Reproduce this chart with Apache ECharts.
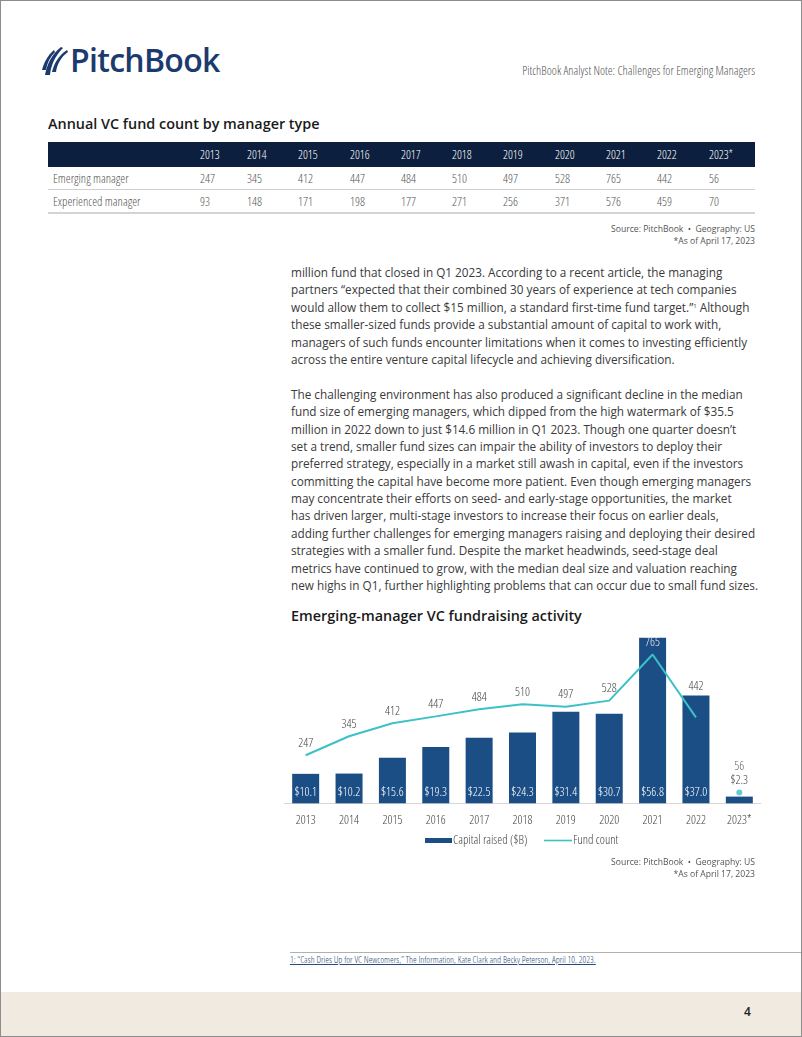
<!DOCTYPE html>
<html>
<head>
<meta charset="utf-8">
<script src="https://cdn.jsdelivr.net/npm/echarts@6/dist/echarts.min.js"></script>
<style>
  html, body { margin:0; padding:0; }
  body { width:802px; height:1037px; position:relative; background:#fff; overflow:hidden; font-family:"Open Sans", sans-serif; }
  .frame { position:absolute; left:0; top:0; width:802px; height:1037px; box-sizing:border-box; border:1px solid #8c8c8c; pointer-events:none; z-index:5; }
  .abs { position:absolute; white-space:nowrap; }
  .cond { font-family:"Open Sans Condensed Light","Roboto Condensed",sans-serif; }
  #tbl { position:absolute; left:48px; top:142px; width:707px; border-collapse:collapse; table-layout:fixed; }
  #tbl td, #tbl th { padding:0; text-align:left; font-weight:normal; font-size:12.5px; }
  #tbl thead th { background:#0d1f3e; color:#fff; height:25px; font-family:"Open Sans"; font-stretch:condensed; font-weight:350; font-size:12px; }
  #tbl tbody td { color:#555; height:22px; border-bottom:1px solid #cfcfcf; }
  #tbl tbody tr:last-child td { border-bottom:2px solid #d4d4d4; height:22px; }
  .body { position:absolute; left:291px; top:264px; font-size:11.75px; line-height:17.4px; color:#3a3a3a; }
  .body div { white-space:nowrap; height:17.4px; }
  .src { position:absolute; right:47px; font-size:8.6px; color:#555; text-align:right; line-height:12px; }
</style>
</head>
<body>
<div class="frame"></div>

<!-- logo -->
<svg class="abs" style="left:41px;top:45px" width="30" height="32" viewBox="0 0 30 32">
  <path d="M4 30 C6 20 10 10 20 2 L22 3 C14 11 10 20 9 30 Z" fill="#1b3a6e"/>
  <path d="M11 27 C13 19 17 11 26 5 L27 7 C20 12 16 19 15 27 Z" fill="#1b3a6e"/>
  <path d="M1 25 C3 17 7 10 13 5 L14 7 C9 12 6 18 5 25 Z" fill="#1b3a6e"/>
</svg>
<div class="abs" style="left:70px;top:38px;font-size:32px;font-weight:600;color:#1b3a6e;letter-spacing:-0.7px;">PitchBook</div>
<div class="abs cond" style="right:47px;top:62px;font-size:12.3px;color:#555;">PitchBook Analyst Note: Challenges for Emerging Managers</div>

<!-- table -->
<div class="abs" style="left:48px;top:114px;font-size:14.4px;font-weight:600;color:#1a1a1a;">Annual VC fund count by manager type</div>
<table id="tbl" class="cond"></table>
<div class="src" style="top:223px;">Source: PitchBook &nbsp;•&nbsp; Geography: US<br>*As of April 17, 2023</div>

<!-- body text -->
<div class="body" id="bodytext"></div>

<!-- chart -->
<div class="abs" style="left:291px;top:606px;font-size:14.4px;font-weight:600;color:#1a1a1a;">Emerging-manager VC fundraising activity</div>
<div id="chart" style="position:absolute;left:284px;top:625px;width:477px;height:235px;"></div>
<div class="src" style="top:856px;">Source: PitchBook &nbsp;•&nbsp; Geography: US<br>*As of April 17, 2023</div>

<!-- footnote -->
<div style="position:absolute;left:290px;top:952px;width:512px;height:1px;background:#b0b0b0;"></div>
<div class="abs cond" style="left:290px;top:953px;font-size:9.4px;color:#2b4a7c;text-decoration:underline;">1: “Cash Dries Up for VC Newcomers,” The Information, Kate Clark and Becky Peterson, April 10, 2023.</div>

<!-- footer -->
<div style="position:absolute;left:0;top:992px;width:802px;height:45px;background:#f0eae0;"></div>
<div class="abs" style="left:744px;top:1003px;font-size:12px;font-weight:600;color:#222;">4</div>

<script>
// ---- data ----
const years = ['2013','2014','2015','2016','2017','2018','2019','2020','2021','2022','2023*'];
const emergingCount = [247, 345, 412, 447, 484, 510, 497, 528, 765, 442, 56];
const experiencedCount = [93, 148, 171, 198, 177, 271, 256, 371, 576, 459, 70];
const capitalRaised = [10.1, 10.2, 15.6, 19.3, 22.5, 24.3, 31.4, 30.7, 56.8, 37.0, 2.3];
const rowLabels = ['Emerging manager', 'Experienced manager'];

const bodyLines = [
  'million fund that closed in Q1 2023. According to a recent article, the managing',
  'partners “expected that their combined 30 years of experience at tech companies',
  'would allow them to collect $15 million, a standard first-time fund target.”<sup style="font-size:6px;vertical-align:4px;line-height:0">1</sup> Although',
  'these smaller-sized funds provide a substantial amount of capital to work with,',
  'managers of such funds encounter limitations when it comes to investing efficiently',
  'across the entire venture capital lifecycle and achieving diversification.',
  '',
  'The challenging environment has also produced a significant decline in the median',
  'fund size of emerging managers, which dipped from the high watermark of $35.5',
  'million in 2022 down to just $14.6 million in Q1 2023. Though one quarter doesn’t',
  'set a trend, smaller fund sizes can impair the ability of investors to deploy their',
  'preferred strategy, especially in a market still awash in capital, even if the investors',
  'committing the capital have become more patient. Even though emerging managers',
  'may concentrate their efforts on seed- and early-stage opportunities, the market',
  'has driven larger, multi-stage investors to increase their focus on earlier deals,',
  'adding further challenges for emerging managers raising and deploying their desired',
  'strategies with a smaller fund. Despite the market headwinds, seed-stage deal',
  'metrics have continued to grow, with the median deal size and valuation reaching',
  'new highs in Q1, further highlighting problems that can occur due to small fund sizes.'
];

// ---- body text ----
document.getElementById('bodytext').innerHTML = bodyLines.map(l => '<div>' + (l || '&nbsp;') + '</div>').join('');

// ---- table ----
const colWidths = [152, 47, 51, 52, 51, 51, 51, 52, 51, 51, 52, 46];
let html = '<colgroup>' + colWidths.map(w => '<col style="width:' + w + 'px">').join('') + '</colgroup>';
html += '<thead><tr><th></th>' + years.map(y => '<th>' + y + '</th>').join('') + '</tr></thead><tbody>';
[emergingCount, experiencedCount].forEach((row, r) => {
  html += '<tr><td style="padding-left:5px">' + rowLabels[r] + '</td>' + row.map(v => '<td>' + v + '</td>').join('') + '</tr>';
});
html += '</tbody>';
document.getElementById('tbl').innerHTML = html;

// ---- chart ----
const COND = 'Open Sans Condensed Light';
const BAR = '#1c4e86';
const TEAL = '#3cc1c8';
const last = years.length - 1;
const chart = echarts.init(document.getElementById('chart'), null, { renderer: 'canvas' });
chart.setOption({
  animation: false,
  textStyle: { fontFamily: COND },
  grid: { left: 0, right: 0, top: 3.3, height: 175, containLabel: false },
  xAxis: {
    type: 'category', data: years,
    axisLine: { lineStyle: { color: '#d6d6d6', width: 1 } },
    axisTick: { show: false },
    axisLabel: { color: '#444', fontSize: 12.5, margin: 11, fontFamily: COND, interval: 0 }
  },
  yAxis: [
    { type: 'value', min: 0, max: 60, show: false },
    { type: 'value', min: 0, max: 900, show: false }
  ],
  legend: [
    { data: [{ name: 'Capital raised ($B)', icon: 'rect' }], left: 141, top: 209, padding: 0, itemWidth: 27, itemHeight: 5, itemGap: 0,
      textStyle: { color: '#444', fontSize: 12.5, fontFamily: COND, padding: [0, 0, 0, -4] } },
    { data: [{ name: 'Fund count', icon: 'rect' }], left: 260, top: 209, padding: 0, itemWidth: 28, itemHeight: 1.6, itemGap: 0,
      textStyle: { color: '#444', fontSize: 12.5, fontFamily: COND, padding: [0, 0, 0, -4] } }
  ],
  series: [
    {
      name: 'Capital raised ($B)', type: 'bar', yAxisIndex: 0, barWidth: 27,
      itemStyle: { color: BAR },
      data: capitalRaised.map((v, i) => i === last
        ? { value: v, label: { position: 'top', distance: 9, color: '#444' } }
        : v),
      label: {
        show: true, position: 'insideBottom', distance: 4, color: '#fff',
        fontSize: 12.5, fontFamily: COND,
        formatter: p => '$' + Number(p.value).toFixed(1)
      }
    },
    {
      name: 'Fund count', type: 'line', yAxisIndex: 1,
      showSymbol: true, symbol: 'circle', symbolSize: 0,
      lineStyle: { color: TEAL, width: 2 }, itemStyle: { color: TEAL },
      data: emergingCount.map((v, i) => {
        if (i === last) return '-';
        if (i === 8) return { value: v, label: { color: '#e8e8e8', distance: 5 } };
        if (i === 9) return { value: v, label: { distance: 24 } };
        return v;
      }),
      label: { show: true, position: 'top', distance: 5, color: '#444', fontSize: 12.5, fontFamily: COND }
    },
    {
      name: 'Fund count', type: 'scatter', yAxisIndex: 1,
      symbolSize: 6, itemStyle: { color: TEAL },
      data: emergingCount.map((v, i) => i === last ? v : '-'),
      label: { show: true, position: 'top', distance: 16, color: '#444', fontSize: 12.5, fontFamily: COND }
    }
  ]
});
</script>
</body>
</html>
